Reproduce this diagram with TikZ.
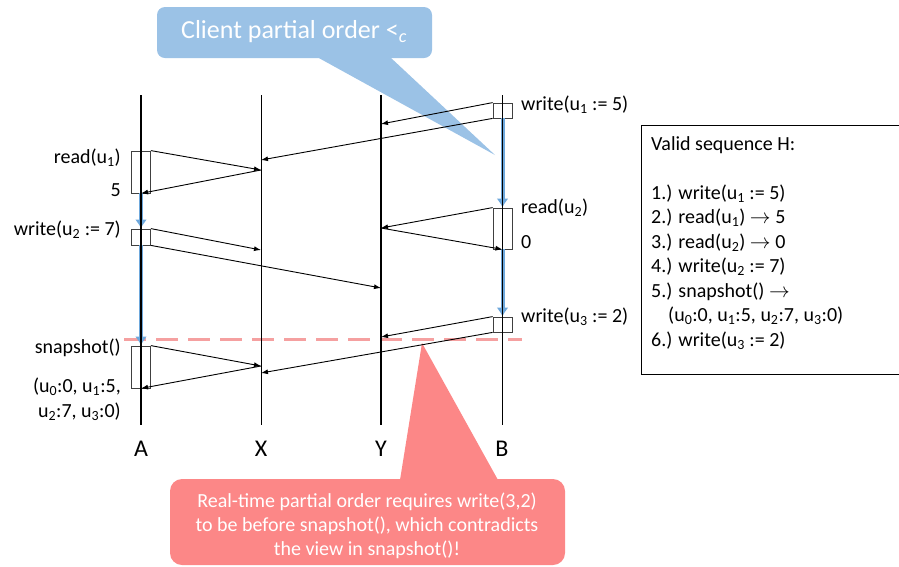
\documentclass[tikz,border=0pt]{standalone}
\usepackage{fontspec}
\setmainfont{Carlito}
\usetikzlibrary{arrows.meta}
\definecolor{calloutblue}{RGB}{155,194,230}
\definecolor{calloutred}{RGB}{252,135,135}
\definecolor{orderblue}{RGB}{110,168,220}
\definecolor{cutred}{RGB}{245,160,160}
\newcommand{\uu}[1]{u\textsubscript{#1}}
\tikzset{
  opbox/.style={draw=black!75, line width=0.8pt, minimum width=19pt, inner sep=0pt},
  msg/.style={line width=0.9pt, -{Latex[length=7pt,width=5pt]}},
  order/.style={orderblue, line width=4pt, -{Latex[length=9pt,width=12pt]}},
  lbl/.style={font=\fontsize{20}{25}\selectfont, inner sep=0pt},
  proc/.style={font=\fontsize{24}{28}\selectfont, inner sep=0pt},
  note/.style={text=white, align=center, inner sep=0pt}
}
\begin{document}
\begin{tikzpicture}[x=1pt,y=-1pt]
\clip (0,0) rectangle (899,566);

\fill[calloutblue, rounded corners=8pt] (157,7) rectangle (432,58);
\fill[calloutblue] (317,57) -- (390,57) -- (495,155) -- cycle;
\node[note, font=\fontsize{26}{30}\selectfont] (client) at (294,32) {Client partial order <\textsubscript{\textit{c}}};

\fill[calloutred, rounded corners=12pt] (170,479) rectangle (565,565);
\fill[calloutred] (400,480) -- (498,480) -- (422,343) -- cycle;
\node[note, font=\fontsize{20}{24}\selectfont] (realtime) at (367,526)
  {Real-time partial order requires write(3,2)\\to be before snapshot(), which contradicts\\the view in snapshot()!};

\node[opbox, minimum height=15pt] (w1) at (502.5,110.5) {};
\node[opbox, minimum height=42pt] (r1) at (141,172) {};
\node[opbox, minimum height=16pt] (w2) at (141,237) {};
\node[opbox, minimum height=41pt] (r2) at (502.5,228.5) {};
\node[opbox, minimum height=15pt] (w3) at (502.5,324.5) {};
\node[opbox, minimum height=42pt] (sn) at (141,367) {};

\coordinate (cut west) at (124,339.5);
\coordinate (cut east) at (522,339.5);
\draw[cutred, line width=2.5pt, dash pattern=on 22pt off 10pt] (cut west) -- (cut east);

\draw[order] (r1.south) -- (w2.north);
\draw[order] (w2.south) -- (sn.north);
\draw[order] (w1.south) -- (r2.north);
\draw[order] (r2.south) -- (w3.north);

\foreach \n/\x/\w in {A/141/2pt, X/261/1pt, Y/381/2pt, B/502/1pt} {
  \coordinate (\n top) at (\x,95);
  \coordinate (\n bot) at (\x,425);
  \draw[line width=\w] (\n top) -- (\n bot);
  \node[proc] (\n) at (\x,449) {\n};
}

\coordinate (y1) at (381,124);
\coordinate (x1) at (261,160);
\coordinate (x2) at (261,170);
\coordinate (x3) at (261,250);
\coordinate (y2) at (381,288);
\coordinate (y3) at (381,228);
\coordinate (y4) at (381,337);
\coordinate (x4) at (261,373);
\coordinate (x5) at (261,366);

\draw[msg] (w1.north west) -- (y1);
\draw[msg] (w1.south west) -- (x1);
\draw[msg] (r1.north east) -- (x2);
\draw[msg] (x2) -- (r1.south);
\draw[msg] (w2.north east) -- (x3);
\draw[msg] (w2.south east) -- (y2);
\draw[msg] (r2.north west) -- (y3);
\draw[msg] (y3) -- (r2.south);
\draw[msg] (w3.north west) -- (y4);
\draw[msg] (w3.south west) -- (x4);
\draw[msg] (sn.north east) -- (x5);
\draw[msg] (x5) -- (sn.south);

\node[lbl, anchor=east] (l read1) at (121,158) {read(\uu{1})};
\node[lbl, anchor=east] (l five) at (121,190) {5};
\node[lbl, anchor=east] (l write2) at (121,230) {write(\uu{2} := 7)};
\node[lbl, anchor=east] (l snap) at (121,348) {snapshot()};
\node[lbl, anchor=east, align=right] (l view) at (121,399) {(\uu{0}:0, \uu{1}:5,\hspace{4pt}\\\uu{2}:7, \uu{3}:0)};
\node[lbl, anchor=west] (l write1) at (521,105) {write(\uu{1} := 5)};
\node[lbl, anchor=west] (l read2) at (521,208) {read(\uu{2})};
\node[lbl, anchor=west] (l zero) at (521,242) {0};
\node[lbl, anchor=west] (l write3) at (521,317) {write(\uu{3} := 2)};

\node[draw, line width=0.8pt, anchor=north west, minimum width=270pt, minimum height=249pt] (seq) at (641,125) {};
\node[anchor=north west, align=left, inner sep=0pt, font=\fontsize{20}{24.5}\selectfont] (seq text) at (651,136)
  {Valid sequence H:\\[24.5pt]
   1.) write(\uu{1} := 5)\\
   2.) read(\uu{1}) $\rightarrow$ 5\\
   3.) read(\uu{2}) $\rightarrow$ 0\\
   4.) write(\uu{2} := 7)\\
   5.) snapshot() $\rightarrow$\\
   \hspace{17pt}(\uu{0}:0, \uu{1}:5, \uu{2}:7, \uu{3}:0)\\
   6.) write(\uu{3} := 2)};
\end{tikzpicture}
\end{document}
